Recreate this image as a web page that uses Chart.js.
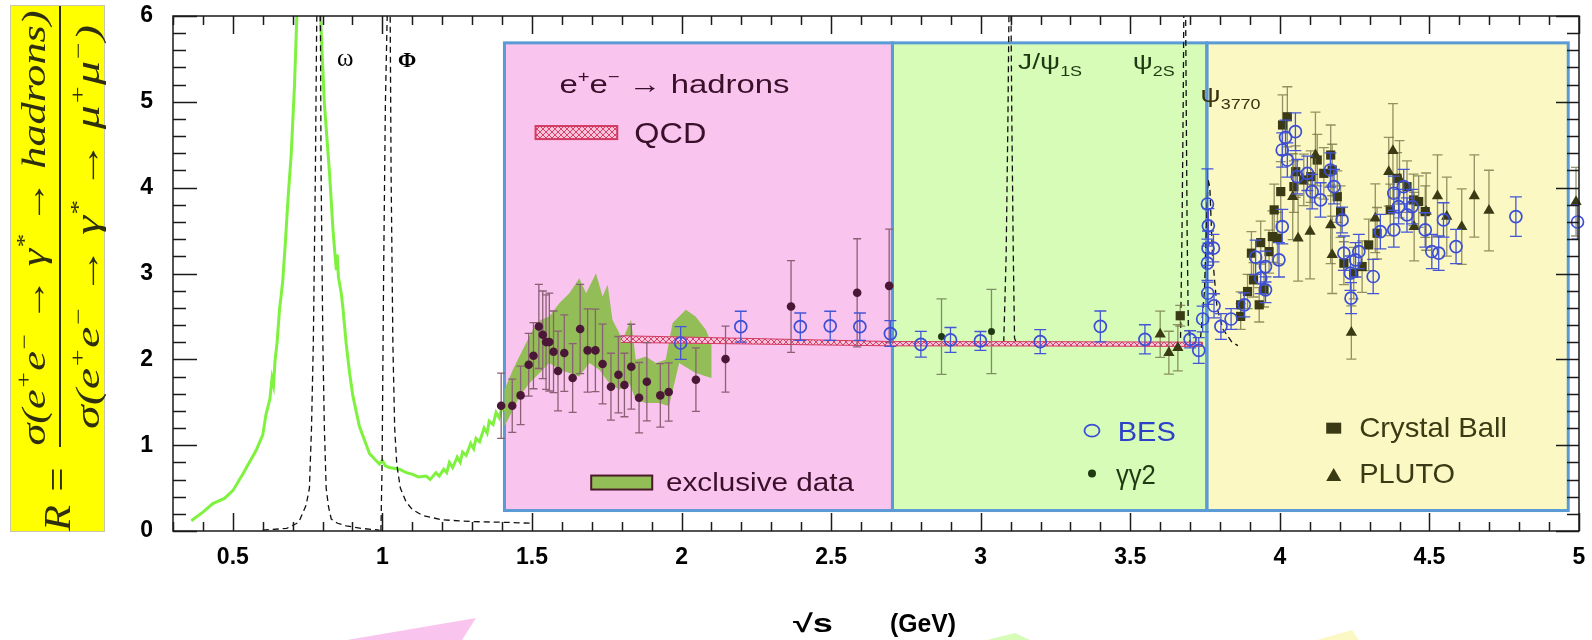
<!DOCTYPE html>
<html>
<head>
<meta charset="utf-8">
<script src="https://cdn.jsdelivr.net/npm/chart.js@4.4.1/dist/chart.umd.min.js"></script>
<style>
  html, body { margin: 0; padding: 0; background: #fff; }
</style>
</head>
<body>
<canvas id="chart" width="1592" height="640"></canvas>
<script>
// low-energy e+e- -> hadrons curve (rho region)
const rhoX = [0.361, 0.40, 0.433, 0.472, 0.50, 0.533, 0.578, 0.60, 0.611, 0.624, 0.631, 0.636, 0.641, 0.648, 0.656, 0.662, 0.667, 0.676, 0.685, 0.695, 0.706, 0.714, 0.730, 0.760, 0.785, 0.793, 0.806, 0.823, 0.835, 0.842, 0.846, 0.849, 0.853, 0.862, 0.868, 0.879, 0.890, 0.901, 0.923, 0.957, 0.990, 1.000, 1.010, 1.023, 1.057, 1.080, 1.101, 1.120, 1.146, 1.160, 1.179, 1.190, 1.205, 1.215, 1.224, 1.235, 1.250, 1.260, 1.268, 1.280, 1.295, 1.305, 1.313, 1.325, 1.340, 1.350, 1.357, 1.370, 1.380, 1.390, 1.402, 1.410, 1.420];
const rhoY = [0.12, 0.22, 0.32, 0.38, 0.47, 0.66, 0.94, 1.12, 1.36, 1.54, 1.78, 1.70, 1.98, 2.20, 2.58, 2.76, 2.92, 3.38, 3.90, 4.38, 5.18, 6.00, 6.80, 7.20, 6.80, 6.00, 4.98, 4.18, 3.50, 3.20, 3.04, 3.22, 2.96, 2.78, 2.60, 2.18, 1.85, 1.58, 1.22, 0.90, 0.78, 0.82, 0.76, 0.74, 0.72, 0.68, 0.66, 0.63, 0.64, 0.60, 0.68, 0.64, 0.72, 0.68, 0.80, 0.74, 0.86, 0.80, 0.92, 0.88, 1.02, 0.96, 1.08, 1.04, 1.20, 1.14, 1.28, 1.24, 1.38, 1.32, 1.46, 1.42, 1.56];

// narrow resonances (dashed)
const omegaX = [0.60, 0.68, 0.72, 0.745, 0.756, 0.763, 0.769, 0.776, 0.780, 0.783, 0.790, 0.793, 0.795, 0.801, 0.806, 0.812, 0.820, 0.829, 0.850, 0.879, 0.93, 0.99];
const omegaY = [0.01, 0.03, 0.10, 0.30, 0.50, 1.20, 2.18, 4.18, 5.80, 6.60, 6.60, 5.80, 4.18, 2.18, 1.20, 0.50, 0.28, 0.14, 0.09, 0.06, 0.03, 0.01];
const phiX = [0.995, 0.999, 1.004, 1.010, 1.016, 1.019, 1.023, 1.026, 1.029, 1.035, 1.041, 1.048, 1.060, 1.079, 1.100, 1.135, 1.20, 1.30, 1.42, 1.50];
const phiY = [0.00, 0.78, 2.98, 4.98, 6.00, 6.60, 6.60, 6.00, 4.18, 2.18, 1.20, 0.78, 0.50, 0.34, 0.25, 0.18, 0.13, 0.11, 0.10, 0.09];
const jpsiX = [3.077, 3.085, 3.091, 3.096, 3.100, 3.104, 3.109, 3.113, 3.118];
const jpsiY = [2.20, 3.20, 4.80, 6.60, 6.60, 4.80, 3.20, 2.25, 2.20];
const psi2sX = [3.668, 3.673, 3.677, 3.680, 3.684, 3.687, 3.690, 3.694, 3.700];
const psi2sY = [2.25, 3.50, 5.00, 6.60, 6.60, 5.00, 3.50, 2.40, 2.20];
const psi3770X = [3.735, 3.748, 3.755, 3.760, 3.766, 3.775, 3.790, 3.810, 3.840, 3.860];
const psi3770Y = [2.25, 2.80, 3.60, 4.10, 4.00, 3.20, 2.60, 2.35, 2.20, 2.16];

// perturbative QCD band
const qcdX = [1.797, 2.2, 2.703, 3.2, 3.74];
const qcdHi = [2.275, 2.245, 2.207, 2.206, 2.20];
const qcdLo = [2.197, 2.18, 2.157, 2.155, 2.15];

// sum of exclusive channels band
const exclHiX = [1.408, 1.436, 1.469, 1.503, 1.530, 1.558, 1.592, 1.625, 1.658, 1.681, 1.714, 1.736, 1.753, 1.769, 1.803, 1.831, 1.847, 1.881, 1.914, 1.947, 1.970, 2.014, 2.047, 2.081, 2.100];
const exclHiY = [1.646, 1.879, 2.112, 2.344, 2.461, 2.499, 2.655, 2.771, 2.946, 2.771, 3.004, 2.732, 2.868, 2.461, 2.228, 2.461, 1.995, 2.034, 1.957, 1.995, 2.422, 2.577, 2.499, 2.344, 2.19];
const exclLoX = [1.408, 1.431, 1.458, 1.492, 1.525, 1.558, 1.592, 1.625, 1.658, 1.692, 1.725, 1.758, 1.792, 1.825, 1.847, 1.881, 1.925, 1.958, 1.992, 2.047, 2.100];
const exclLoY = [1.219, 1.375, 1.568, 1.724, 1.84, 1.957, 1.879, 1.84, 1.801, 1.957, 1.879, 1.724, 1.646, 1.724, 1.53, 1.492, 1.492, 1.452, 1.957, 1.84, 1.782];

// BES
const besX = [1.997, 2.198, 2.397, 2.497, 2.596, 2.698, 2.800, 2.899, 2.999, 3.199, 3.400, 3.549, 3.700, 3.729, 3.742, 3.759, 3.758, 3.760, 3.761, 3.758, 3.778, 3.780, 3.803, 3.837, 3.881, 3.919, 3.936, 3.952, 3.952, 3.997, 4.008, 4.008, 4.019, 4.025, 4.052, 4.058, 4.092, 4.108, 4.136, 4.169, 4.181, 4.208, 4.214, 4.236, 4.238, 4.253, 4.264, 4.312, 4.336, 4.381, 4.381, 4.397, 4.414, 4.425, 4.442, 4.486, 4.508, 4.531, 4.547, 4.589, 4.789, 4.995];
const besY = [2.19, 2.38, 2.38, 2.39, 2.38, 2.30, 2.175, 2.226, 2.214, 2.206, 2.383, 2.233, 2.233, 2.104, 2.47, 2.77, 3.12, 3.295, 3.555, 3.81, 3.295, 2.624, 2.383, 2.47, 2.635, 3.19, 2.946, 3.081, 2.81, 3.159, 3.546, 4.439, 4.586, 4.322, 4.652, 4.128, 4.167, 3.954, 3.857, 4.206, 4.012, 3.624, 3.237, 3.004, 2.713, 3.159, 3.256, 2.965, 3.488, 3.508, 3.935, 3.779, 4.012, 3.682, 3.779, 3.508, 3.256, 3.237, 3.624, 3.314, 3.663, 3.60];
const besErr = [0.19, 0.18, 0.16, 0.17, 0.16, 0.15, 0.15, 0.145, 0.11, 0.14, 0.18, 0.17, 0.10, 0.15, 0.15, 0.13, 0.20, 0.20, 0.20, 0.41, 0.16, 0.14, 0.15, 0.12, 0.14, 0.20, 0.18, 0.18, 0.15, 0.20, 0.20, 0.20, 0.20, 0.20, 0.22, 0.20, 0.20, 0.20, 0.20, 0.20, 0.20, 0.15, 0.20, 0.20, 0.18, 0.20, 0.20, 0.20, 0.20, 0.20, 0.20, 0.20, 0.20, 0.20, 0.20, 0.20, 0.20, 0.20, 0.20, 0.20, 0.23, 0.20];

// inclusive measurements below 2.7 GeV
const lowX = [1.397, 1.434, 1.462, 1.489, 1.505, 1.523, 1.536, 1.547, 1.558, 1.572, 1.587, 1.608, 1.636, 1.661, 1.686, 1.712, 1.736, 1.764, 1.789, 1.809, 1.832, 1.858, 1.884, 1.929, 1.957, 2.048, 2.147, 2.366, 2.587, 2.694];
const lowY = [1.46, 1.46, 1.58, 1.937, 2.042, 2.383, 2.286, 2.201, 2.201, 2.088, 1.864, 2.073, 1.782, 2.353, 2.104, 2.104, 1.945, 1.681, 1.821, 1.701, 1.914, 1.553, 1.739, 1.58, 1.619, 1.763, 2.003, 2.616, 2.775, 2.856];
const lowErr = [0.38, 0.31, 0.34, 0.365, 0.385, 0.49, 0.51, 0.55, 0.57, 0.475, 0.465, 0.446, 0.40, 0.52, 0.485, 0.48, 0.465, 0.39, 0.445, 0.37, 0.495, 0.41, 0.455, 0.37, 0.34, 0.37, 0.385, 0.535, 0.63, 0.66];

// gamma gamma 2
const ggX = [2.869, 3.036];
const ggY = [2.265, 2.324];
const ggErr = [0.44, 0.49];

// Crystal Ball
const cbX = [3.667, 3.869, 3.869, 3.892, 3.905, 3.912, 3.931, 3.936, 3.947, 3.964, 3.975, 3.981, 3.992, 4.003, 4.009, 4.025, 4.047, 4.053, 4.080, 4.103, 4.125, 4.147, 4.170, 4.175, 4.192, 4.203, 4.214, 4.247, 4.275, 4.297, 4.325, 4.369, 4.392, 4.425, 4.447, 4.464, 4.486];
const cbY = [2.508, 2.50, 2.635, 2.79, 3.237, 2.926, 2.635, 3.36, 2.81, 3.255, 3.43, 3.741, 3.411, 3.954, 4.73, 4.826, 4.012, 4.186, 4.09, 4.128, 4.322, 4.167, 4.38, 4.206, 3.895, 3.721, 3.12, 3.004, 3.081, 3.333, 3.469, 3.741, 4.109, 4.012, 3.857, 3.838, 3.721];
const cbErr = [0.12, 0.15, 0.15, 0.20, 0.25, 0.20, 0.20, 0.25, 0.20, 0.25, 0.30, 0.30, 0.30, 0.35, 0.35, 0.35, 0.30, 0.30, 0.30, 0.30, 0.30, 0.30, 0.35, 0.30, 0.30, 0.30, 0.25, 0.30, 0.30, 0.30, 0.30, 0.30, 0.30, 0.30, 0.30, 0.30, 0.30];

// PLUTO
const plX = [3.600, 3.629, 3.659, 4.043, 4.061, 4.101, 4.119, 4.170, 4.175, 4.239, 4.319, 4.364, 4.378, 4.400, 4.449, 4.489, 4.527, 4.558, 4.608, 4.650, 4.699, 4.990];
const plY = [2.292, 2.077, 2.135, 3.895, 3.411, 3.488, 4.38, 3.566, 3.217, 2.313, 3.644, 4.186, 4.43, 4.098, 3.546, 3.721, 3.903, 3.663, 3.546, 3.903, 3.733, 3.837];
const plErr = [0.27, 0.25, 0.27, 0.50, 0.50, 0.55, 0.50, 0.45, 0.45, 0.31, 0.40, 0.40, 0.55, 0.45, 0.40, 0.45, 0.48, 0.46, 0.44, 0.48, 0.47, 0.40];

// energy ranges of the shaded panels
const panelEdges = [1.408, 2.705, 3.756, 4.964];
const panelTop = 5.687;
const panelBottom = 0.2385;
const panelFill = ['#f9c5ee', '#d6fcb8', '#fbf8c3'];

const SANS = "'Liberation Sans', Arial, sans-serif";
const SERIF = "'Liberation Serif', 'Times New Roman', serif";

const pts = (xs, ys) => xs.map((v, i) => ({ x: v, y: ys[i] }));

const canvas = document.getElementById('chart');
const ctx0 = canvas.getContext('2d');

// crosshatch fill for the QCD band
const tile = document.createElement('canvas');
tile.width = 6; tile.height = 6;
const tg = tile.getContext('2d');
tg.fillStyle = '#f7c4dc';
tg.fillRect(0, 0, 6, 6);
tg.strokeStyle = '#d8406a';
tg.lineWidth = 1;
tg.beginPath();
tg.moveTo(0, 0); tg.lineTo(6, 6);
tg.moveTo(6, 0); tg.lineTo(0, 6);
tg.stroke();
const hatch = ctx0.createPattern(tile, 'repeat');

function richText(ctx, parts, x, y, o) {
  const pre = (o.style ? o.style + ' ' : '') + (o.weight ? o.weight + ' ' : '');
  const font = k => pre + (k ? Math.round(o.size * 0.62) : o.size) + 'px ' + o.family;
  const widths = parts.map(([t, k]) => { ctx.font = font(k); return ctx.measureText(t).width; });
  const total = widths.reduce((a, b) => a + b, 0);
  const sx = o.width ? o.width / total : 1;
  const x0 = o.align === 'center' ? x - total * sx / 2 : x;
  ctx.save();
  ctx.translate(x0, y);
  ctx.scale(sx, 1);
  ctx.fillStyle = o.color;
  ctx.textAlign = 'left';
  ctx.textBaseline = 'alphabetic';
  let cx = 0;
  parts.forEach(([t, k], i) => {
    ctx.font = font(k);
    ctx.fillText(t, cx, k === 'sup' ? -o.size * 0.42 : k === 'sub' ? o.size * 0.3 : 0);
    cx += widths[i];
  });
  ctx.restore();
}

// shaded panels behind the data
const panels = {
  id: 'panels',
  beforeDatasetsDraw(chart) {
    const { ctx, scales: { x, y } } = chart;
    const t = y.getPixelForValue(panelTop), b = y.getPixelForValue(panelBottom);
    ctx.save();
    for (let i = 0; i < 3; i++) {
      const l = x.getPixelForValue(panelEdges[i]), r = x.getPixelForValue(panelEdges[i + 1]);
      ctx.fillStyle = panelFill[i];
      ctx.fillRect(l, t, r - l, b - t);
    }
    ctx.strokeStyle = '#5b9bd5';
    ctx.lineWidth = 3;
    for (let i = 0; i < 3; i++) {
      const l = x.getPixelForValue(panelEdges[i]), r = x.getPixelForValue(panelEdges[i + 1]);
      ctx.strokeRect(l, t, r - l, b - t);
    }
    ctx.restore();
  }
};

// vertical error bars with caps, drawn just under each marker set
const errorBars = {
  id: 'errorBars',
  beforeDatasetDraw(chart, args) {
    const ds = chart.data.datasets[args.index];
    if (!ds.errors) return;
    const { ctx, chartArea: a, scales: { x, y } } = chart;
    ctx.save();
    ctx.beginPath();
    ctx.rect(a.left, a.top, a.right - a.left, a.bottom - a.top);
    ctx.clip();
    ctx.strokeStyle = ds.errorColor;
    ctx.lineWidth = 1.3;
    ds.data.forEach((p, i) => {
      const px = x.getPixelForValue(p.x);
      const hi = y.getPixelForValue(p.y + ds.errors[i]);
      const lo = y.getPixelForValue(p.y - ds.errors[i]);
      ctx.beginPath();
      ctx.moveTo(px, hi); ctx.lineTo(px, lo);
      ctx.moveTo(px - ds.cap, hi); ctx.lineTo(px + ds.cap, hi);
      ctx.moveTo(px - ds.cap, lo); ctx.lineTo(px + ds.cap, lo);
      ctx.stroke();
    });
    ctx.restore();
  }
};

// frame, inward ticks, labels and legends
const decor = {
  id: 'decor',
  afterDatasetsDraw(chart) {
    const { ctx, chartArea: a, scales: { x, y } } = chart;
    const P = (vx, vy) => [x.getPixelForValue(vx), y.getPixelForValue(vy)];
    ctx.save();
    ctx.strokeStyle = '#1a1a1a';
    ctx.lineWidth = 1.5;
    ctx.strokeRect(a.left, a.top, a.right - a.left, a.bottom - a.top);
    ctx.beginPath();
    for (let i = 3; i <= 50; i++) {
      const px = Math.round(x.getPixelForValue(i / 10)) + 0.5;
      const len = i % 5 === 0 ? 18 : 9;
      ctx.moveTo(px, a.bottom); ctx.lineTo(px, a.bottom - len);
      ctx.moveTo(px, a.top); ctx.lineTo(px, a.top + len);
    }
    for (let i = 0; i <= 30; i++) {
      const py = Math.round(y.getPixelForValue(i / 5)) + 0.5;
      const major = i % 5 === 0;
      ctx.moveTo(a.left, py); ctx.lineTo(a.left + (major ? 24 : 13), py);
      ctx.moveTo(a.right, py); ctx.lineTo(a.right - (major ? 23 : 12), py);
    }
    ctx.stroke();

    // resonance names
    let p = P(0.848, 5.416);
    richText(ctx, [['ω', '']], p[0], p[1], { size: 25, family: SERIF, color: '#000' });
    p = P(1.052, 5.404);
    richText(ctx, [['Φ', '']], p[0], p[1], { size: 22, family: SERIF, weight: 'bold', color: '#000' });
    p = P(3.125, 5.381);
    richText(ctx, [['J/ψ', ''], ['1S', 'sub']], p[0], p[1], { size: 22, family: SANS, color: '#1f3a12', width: 64 });
    p = P(3.508, 5.381);
    richText(ctx, [['ψ', ''], ['2S', 'sub']], p[0], p[1], { size: 22, family: SANS, color: '#1f3a12', width: 42 });
    p = P(3.735, 4.997);
    richText(ctx, [['ψ', ''], ['3770', 'sub']], p[0], p[1], { size: 22, family: SANS, color: '#3a3210', width: 60 });

    // pink panel legend
    const maroon = '#3a0f2a';
    p = P(1.592, 5.101);
    richText(ctx, [['e', ''], ['+', 'sup'], ['e', ''], ['−', 'sup'], [' → hadrons', '']], p[0], p[1], { size: 26, family: SANS, color: maroon, width: 230 });
    let q = P(1.512, 4.718), r = P(1.785, 4.566);
    ctx.fillStyle = hatch;
    ctx.fillRect(q[0], q[1], r[0] - q[0], r[1] - q[1]);
    ctx.strokeStyle = '#d33a63';
    ctx.lineWidth = 2;
    ctx.strokeRect(q[0], q[1], r[0] - q[0], r[1] - q[1]);
    p = P(1.842, 4.52);
    richText(ctx, [['QCD', '']], p[0], p[1], { size: 30, family: SANS, color: maroon, width: 72 });
    q = P(1.698, 0.646); r = P(1.902, 0.483);
    ctx.fillStyle = '#93bd57';
    ctx.fillRect(q[0], q[1], r[0] - q[0], r[1] - q[1]);
    ctx.strokeStyle = '#4a1a2a';
    ctx.strokeRect(q[0], q[1], r[0] - q[0], r[1] - q[1]);
    p = P(1.948, 0.471);
    richText(ctx, [['exclusive data', '']], p[0], p[1], { size: 26, family: SANS, color: maroon, width: 188 });

    // green panel legend
    p = P(3.372, 1.169);
    ctx.strokeStyle = '#3c4fd4';
    ctx.lineWidth = 1.8;
    ctx.beginPath();
    ctx.ellipse(p[0], p[1], 7.5, 6, 0, 0, Math.PI * 2);
    ctx.stroke();
    p = P(3.458, 1.053);
    richText(ctx, [['BES', '']], p[0], p[1], { size: 28, family: SANS, color: '#2c40c8', width: 58 });
    p = P(3.372, 0.669);
    ctx.fillStyle = '#1f3a12';
    ctx.beginPath();
    ctx.arc(p[0], p[1], 4, 0, Math.PI * 2);
    ctx.fill();
    p = P(3.452, 0.553);
    richText(ctx, [['γγ2', '']], p[0], p[1], { size: 28, family: SANS, color: '#1f3a12', width: 40 });

    // yellow panel legend
    const olive = '#3a3a14';
    p = P(4.18, 1.198);
    ctx.fillStyle = olive;
    ctx.fillRect(p[0] - 7.5, p[1] - 5.5, 15, 11);
    p = P(4.265, 1.1);
    richText(ctx, [['Crystal Ball', '']], p[0], p[1], { size: 28, family: SANS, color: olive, width: 148 });
    p = P(4.18, 0.657);
    ctx.fillStyle = olive;
    ctx.beginPath();
    ctx.moveTo(p[0] - 7.5, p[1] + 6.5);
    ctx.lineTo(p[0] + 7.5, p[1] + 6.5);
    ctx.lineTo(p[0], p[1] - 6.5);
    ctx.closePath();
    ctx.fill();
    p = P(4.265, 0.564);
    richText(ctx, [['PLUTO', '']], p[0], p[1], { size: 28, family: SANS, color: olive, width: 96 });
    ctx.restore();
  },
  afterDraw(chart) {
    const ctx = chart.ctx;
    ctx.save();
    // axis title
    richText(ctx, [['√s', '']], 793, 632, { size: 25, family: SANS, weight: 'bold', color: '#000', width: 40 });
    richText(ctx, [['(GeV)', '']], 890, 632, { size: 25, family: SANS, weight: 'bold', color: '#000', width: 66 });

    // R ratio box on the left
    ctx.fillStyle = '#ffff00';
    ctx.fillRect(10, 5, 94, 526);
    ctx.strokeStyle = '#c8c8a8';
    ctx.lineWidth = 1;
    ctx.strokeRect(10.5, 5.5, 94, 526);
    ctx.translate(60, 531);
    ctx.rotate(-Math.PI / 2);
    const ink = '#2e2e10';
    ctx.strokeStyle = ink;
    ctx.lineWidth = 2;
    ctx.beginPath();
    ctx.moveTo(84, 0); ctx.lineTo(525, 0);
    ctx.stroke();
    const tex = { size: 34, family: SERIF, style: 'italic', color: ink, align: 'center' };
    richText(ctx, [['σ(e', ''], ['+', 'sup'], ['e', ''], ['−', 'sup'], [' → γ', ''], ['*', 'sup'], [' → hadrons)', '']], 303, -15, Object.assign({ width: 435 }, tex));
    richText(ctx, [['σ(e', ''], ['+', 'sup'], ['e', ''], ['−', 'sup'], [' → γ', ''], ['*', 'sup'], [' → μ', ''], ['+', 'sup'], ['μ', ''], ['−', 'sup'], [')', '']], 304, 39, Object.assign({ width: 404 }, tex));
    richText(ctx, [['R = ', '']], 38, 10, { size: 38, family: SERIF, style: 'italic', color: ink, align: 'center', width: 76 });
    ctx.restore();

    // pastel shapes along the bottom edge
    const tri = (c, a, b, d) => {
      ctx.fillStyle = c;
      ctx.beginPath();
      ctx.moveTo(a[0], a[1]); ctx.lineTo(b[0], b[1]); ctx.lineTo(d[0], d[1]);
      ctx.closePath();
      ctx.fill();
    };
    tri('#f9c5ee', [476, 618], [347, 640], [462, 640]);
    tri('#d6fcb8', [1015, 633], [987, 640], [1030, 640]);
    tri('#fbf8c3', [1352, 630], [1317, 640], [1359, 640]);
  }
};

const markers = (label, xs, ys, errs, o) => Object.assign({
  label,
  data: pts(xs, ys),
  errors: errs,
  showLine: false,
  clip: 8
}, o);

const curve = (label, xs, ys, o) => Object.assign({
  label,
  data: pts(xs, ys),
  pointRadius: 0,
  fill: false,
  clip: 0
}, o);

const dashed = { borderColor: '#111', borderWidth: 1.3, borderDash: [6, 4], order: 6 };

new Chart(canvas, {
  type: 'line',
  data: {
    datasets: [
      markers('BES', besX, besY, besErr, { errorColor: '#4456d6', cap: 6, pointStyle: 'circle', pointRadius: 6, pointBorderWidth: 1.7, pointBorderColor: '#3c4fd4', pointBackgroundColor: 'rgba(0,0,0,0)', borderColor: '#3c4fd4', order: 0 }),
      markers('PLUTO', plX, plY, plErr, { errorColor: 'rgba(112,110,64,0.75)', cap: 5, pointStyle: 'triangle', pointRadius: 6.5, pointBorderWidth: 0, pointBackgroundColor: '#3a3a14', borderColor: '#3a3a14', order: 1 }),
      markers('Crystal Ball', cbX, cbY, cbErr, { errorColor: 'rgba(112,110,64,0.75)', cap: 5, pointStyle: 'rect', pointRadius: 6.5, pointBorderWidth: 0, pointBackgroundColor: '#3a3a14', borderColor: '#3a3a14', order: 2 }),
      markers('γγ2', ggX, ggY, ggErr, { errorColor: '#7e8e62', cap: 5, pointStyle: 'circle', pointRadius: 3.5, pointBorderWidth: 0, pointBackgroundColor: '#1f3a12', borderColor: '#1f3a12', order: 3 }),
      markers('inclusive', lowX, lowY, lowErr, { errorColor: '#8a6074', cap: 4, pointStyle: 'circle', pointRadius: 4.3, pointBorderWidth: 0, pointBackgroundColor: '#4b1736', borderColor: '#4b1736', order: 4 }),
      {
        label: 'QCD',
        data: pts(qcdX, qcdHi).concat(pts(qcdX, qcdLo).reverse()),
        fill: 'shape',
        backgroundColor: hatch,
        borderColor: '#d33a63',
        borderWidth: 1,
        pointRadius: 0,
        order: 5
      },
      curve('ω', omegaX, omegaY, dashed),
      curve('Φ', phiX, phiY, dashed),
      curve('J/ψ', jpsiX, jpsiY, dashed),
      curve('ψ(2S)', psi2sX, psi2sY, dashed),
      curve('ψ(3770)', psi3770X, psi3770Y, dashed),
      {
        label: 'exclusive data',
        data: pts(exclHiX, exclHiY).concat(pts(exclLoX, exclLoY).reverse()),
        fill: 'shape',
        backgroundColor: '#93bd57',
        borderColor: 'rgba(0,0,0,0)',
        borderWidth: 0,
        pointRadius: 0,
        order: 7
      },
      curve('e+e- → hadrons', rhoX, rhoY, { borderColor: '#7ef23e', borderWidth: 3, order: 8 })
    ]
  },
  options: {
    responsive: false,
    animation: false,
    events: [],
    layout: { padding: { top: 16, right: 13, left: 0, bottom: 0 } },
    plugins: { legend: { display: false }, tooltip: { enabled: false } },
    scales: {
      x: {
        type: 'linear',
        min: 0.3,
        max: 5,
        afterFit(s) { s.height = 109; s.paddingLeft = 0; s.paddingRight = 0; },
        ticks: {
          stepSize: 0.5,
          includeBounds: false,
          autoSkip: false,
          maxRotation: 0,
          padding: 13,
          color: '#000',
          font: { family: SANS, size: 23, weight: 'bold' },
          callback: v => String(Math.round(v * 10) / 10)
        },
        grid: { display: false, drawTicks: false },
        border: { display: false }
      },
      y: {
        min: 0,
        max: 6,
        afterFit(s) { s.width = 173; s.paddingTop = 0; s.paddingBottom = 0; },
        ticks: {
          stepSize: 1,
          padding: 20,
          color: '#000',
          font: { family: SANS, size: 23, weight: 'bold' }
        },
        grid: { display: false, drawTicks: false },
        border: { display: false }
      }
    }
  },
  plugins: [panels, errorBars, decor]
});
</script>
</body>
</html>
